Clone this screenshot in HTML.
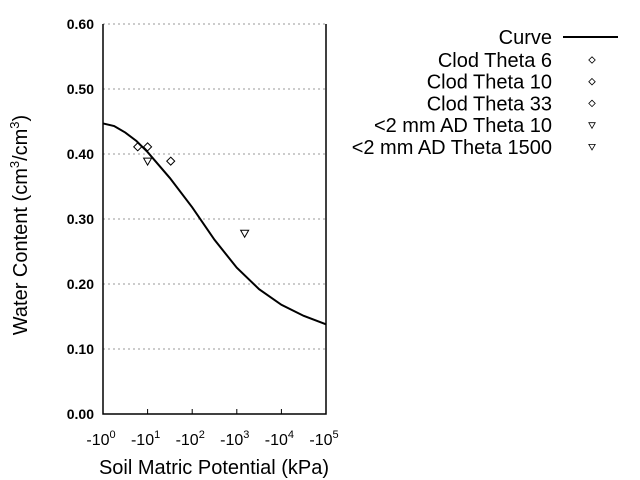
<!DOCTYPE html>
<html><head><meta charset="utf-8"><style>body{margin:0;background:#fff}svg{display:block;font-family:"Liberation Sans",sans-serif}</style></head>
<body>
<svg id="chart" width="640" height="480" viewBox="0 0 640 480">
<g id="grid"></g><g id="axes"></g><g id="curve"></g><g id="pts"></g><g id="legend"></g>
</svg>
<script>
const yTicks=[0,0.1,0.2,0.3,0.4,0.5,0.6];
const yTickLabels=["0.00","0.10","0.20","0.30","0.40","0.50","0.60"];
const xDecades=[0,1,2,3,4,5];
const curveLogX=[0,0.25,0.5,0.75,1,1.5,2,2.5,3,3.5,4,4.5,5];
const curveTheta=[0.447,0.443,0.433,0.42,0.403,0.363,0.318,0.268,0.225,0.192,0.168,0.151,0.138];
const seriesNames=["Clod Theta 6","Clod Theta 10","Clod Theta 33","<2 mm AD Theta 10","<2 mm AD Theta 1500"];
const seriesKPa=[6,10,33,10,1500];
const seriesTheta=[0.411,0.411,0.389,0.389,0.278];
const seriesMarker=["diamond","diamond","diamond","tri","tri"];
const NS="http://www.w3.org/2000/svg";
const L=103,R=326,T=24,B=414;
const xs=v=>L+(v/5)*(R-L);
const ys=v=>B-(v/0.6)*(B-T);
function mk(tag,attrs,parent,text){const e=document.createElementNS(NS,tag);for(const k in attrs)e.setAttribute(k,attrs[k]);if(text!==undefined)e.textContent=text;parent.appendChild(e);return e;}
const grid=document.getElementById('grid'),axes=document.getElementById('axes');
yTicks.forEach((t,i)=>{
 if(t>0){const g=mk('line',{x1:L,x2:R,y1:ys(t),y2:ys(t),stroke:'#999','stroke-dasharray':'2,3'},grid);
 
 }
 const tx=mk('text',{x:L-9,y:ys(t)+5,'text-anchor':'end','font-size':'14','font-weight':'bold'},axes,yTickLabels[i]);
 
 
});
const frame=mk('path',{d:`M${L},${T}V${B}H${R}V${T}`,fill:'none',stroke:'#000','stroke-width':1.5},axes);


xDecades.forEach(d=>{
 mk('line',{x1:xs(d),x2:xs(d),y1:B,y2:B-5,stroke:'#000'},axes);
 const t=mk('text',{x:xs(d)-2,y:B+31,'text-anchor':'middle','font-size':'16'},axes);
 
 
 t.appendChild(document.createTextNode('-10'));
 mk('tspan',{dy:-7,'font-size':'11'},t,String(d));
});
const xt=mk('text',{x:214,y:474,'text-anchor':'middle','font-size':'20'},axes,'Soil Matric Potential (kPa)');


const yt=mk('text',{transform:'translate(27,225) rotate(-90)','text-anchor':'middle','font-size':'20'},axes);


yt.appendChild(document.createTextNode('Water Content (cm'));
mk('tspan',{dy:-8,'font-size':'13'},yt,'3');
mk('tspan',{dy:8},yt,'/cm');
mk('tspan',{dy:-8,'font-size':'13'},yt,'3');
mk('tspan',{dy:8},yt,')');
const cp=mk('polyline',{points:curveLogX.map((x,i)=>xs(x)+','+ys(curveTheta[i])).join(' '),fill:'none',stroke:'#000','stroke-width':2},document.getElementById('curve'));


function marker(type,x,y,parent){
 if(type==='diamond')return mk('polygon',{points:`${x},${y-4} ${x+4},${y} ${x},${y+4} ${x-4},${y}`,fill:'none',stroke:'#000'},parent);
 return mk('polygon',{points:`${x-4},${y-3} ${x+4},${y-3} ${x},${y+4}`,fill:'none',stroke:'#000'},parent);
}
const pts=document.getElementById('pts');
seriesKPa.forEach((k,i)=>{
 const m=marker(seriesMarker[i],xs(Math.log10(k)),ys(seriesTheta[i]),pts);
 
 
});
const lg=document.getElementById('legend');
const ct=mk('text',{x:552,y:44,'text-anchor':'end','font-size':'20'},lg,'Curve');


mk('line',{x1:563,x2:618,y1:37,y2:37,stroke:'#000','stroke-width':2},lg);
seriesNames.forEach((n,i)=>{
 const y=60+i*21.7;
 const t=mk('text',{x:552,y:y+7,'text-anchor':'end','font-size':'20'},lg,n);
 
 
 const m=marker(seriesMarker[i],592,y,lg);
 m.setAttribute('transform',`translate(592,${y}) scale(0.8) translate(-592,${-y})`);
});
</script>
</body></html>
